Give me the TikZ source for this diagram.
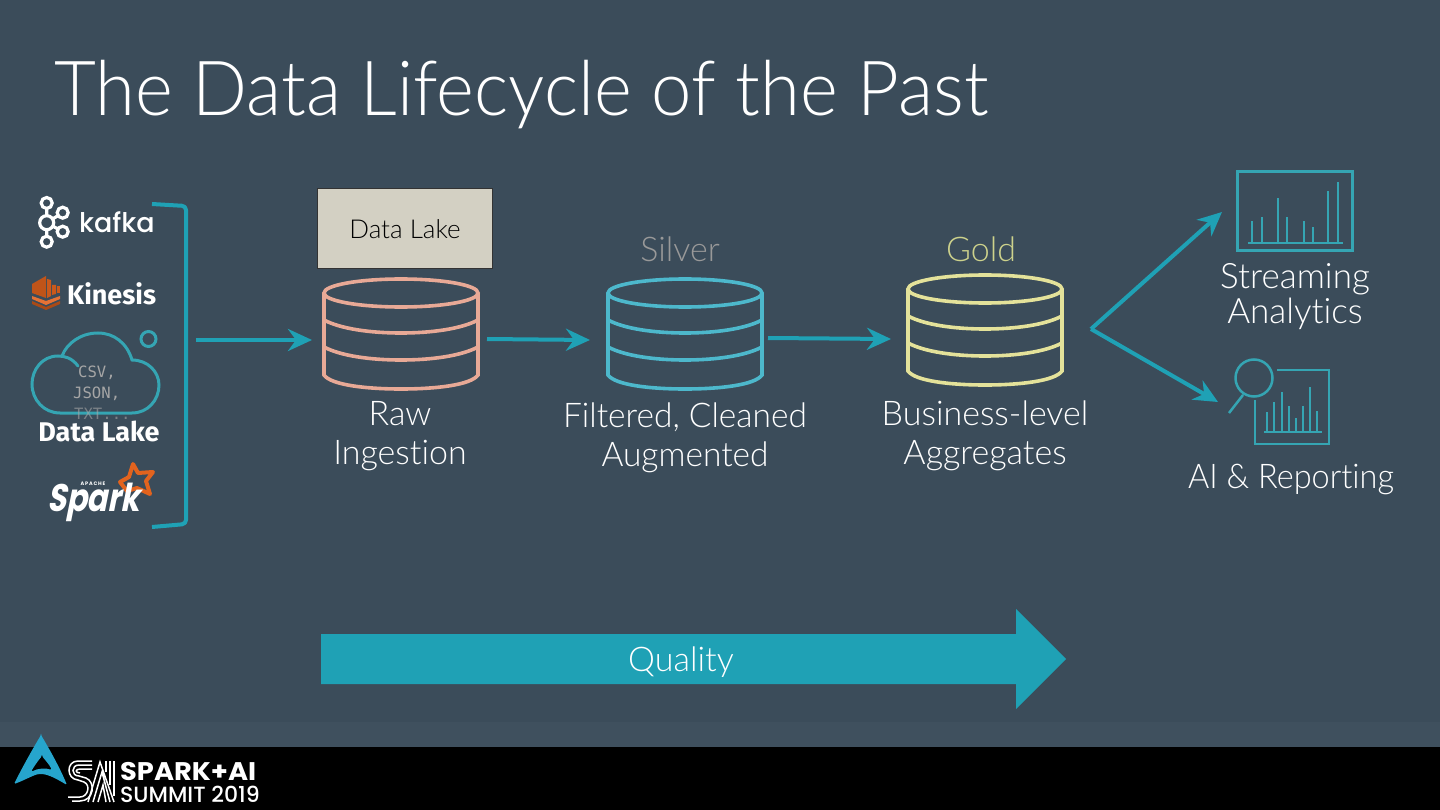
\documentclass[tikz,border=0pt]{standalone}
\usepackage{fontspec}
\usetikzlibrary{arrows.meta}
\setmainfont{Lato Light}[Ligatures=NoCommon]
\newfontfamily\boldf{Fira Sans}[UprightFont=* Bold]
\newfontfamily\geof{Poppins}[UprightFont=* Medium]
\newfontfamily\geob{Poppins}[UprightFont=* Bold]
\newfontfamily\monof{DejaVu Sans Mono}
\definecolor{bgc}{HTML}{3B4C5A}
\definecolor{bandc}{HTML}{3F505E}
\definecolor{teal}{HTML}{1FA1B5}
\definecolor{icont}{HTML}{35A5B3}
\definecolor{rawc}{HTML}{E8A996}
\definecolor{silverc}{HTML}{4DB8CC}
\definecolor{goldc}{HTML}{E4E29A}
\definecolor{orangec}{HTML}{E2631E}
\definecolor{logoblue}{HTML}{26A5CD}
\definecolor{boxc}{HTML}{D3D0C3}
\definecolor{goldt}{HTML}{CDD28C}
\tikzset{
  lbl/.style={text=white,align=center,font=\fontsize{#1}{#1}\selectfont,inner sep=0pt},
  lbl/.default=34,
  flow/.style={draw=teal,line width=4pt,-{Stealth[length=24pt,width=22pt,inset=8pt]}},
  icon/.style={draw=icont,line width=3pt},
  thin icon/.style={draw=icont,line width=2.5pt},
  monotext/.style={text=black!35!white,font=\monof\fontsize{15.6}{15.6}\selectfont,inner sep=0pt,anchor=base west},
}
\newcommand{\cyl}[4]{% name, cx, top y (ellipse centre), colour
  \begin{scope}[shift={(#2,#3)},draw=#4,line width=3.6pt]
    \draw (0,0) ellipse (77 and 14);
    \draw (-77,0) -- (-77,82) .. controls (-70,92) and (-35,96) .. (0,96) .. controls (35,96) and (70,92) .. (77,82) -- (77,0);
    \draw (-77,27) .. controls (-60,36) and (-30,40) .. (0,40) .. controls (30,40) and (60,36) .. (77,27);
    \draw (-77,54) .. controls (-60,63) and (-30,67) .. (0,67) .. controls (30,67) and (60,63) .. (77,54);
  \end{scope}
}
\begin{document}
\begin{tikzpicture}[x=1pt,y=-1pt]
\useasboundingbox (0,0) rectangle (1440,810);
\fill[bgc] (0,0) rectangle (1440,810);
\fill[bandc] (0,722) rectangle (1440,747);
\fill[black] (0,747) rectangle (1440,810);

\node[lbl=76,anchor=west,xscale=.952] (title) at (54,95) {The Data Lifecycle of the Past};

% kafka
\begin{scope}[draw=white,line width=3.2pt]
  \draw (46.7,222.7) -- (46.7,203) (46.7,222.7) -- (46.7,241.7) (46.7,222.7) -- (62.7,212.7) (46.7,222.7) -- (62.7,231.7);
  \draw[fill=bgc] (46.7,203) circle (5.5) (62.7,212.7) circle (5.5) (46.7,222.7) circle (7) (62.7,231.7) circle (5.5) (46.7,241.7) circle (5.5);
\end{scope}
\node[text=white,font=\geof\fontsize{27}{27}\selectfont,anchor=base west,inner sep=0pt] (kafka) at (79,233) {kafka};

% kinesis
\fill[orangec!85!black] (32,284) -- (46,276) -- (46,298) -- (32,293) -- cycle;
\fill[orangec!90!black] (47,279) -- (51,280) -- (51,296) -- (47,298) -- cycle;
\fill[orangec!90!black] (52,285) -- (56,285) -- (56,294) -- (52,295) -- cycle;
\fill[orangec!90!black] (57,286) -- (60,286) -- (60,293) -- (57,293) -- cycle;
\fill[orangec!90!white] (32,296) -- (46,301) -- (60,296) -- (60,299) -- (46,305) -- (32,299) -- cycle;
\fill[orangec!75!black] (32,301) -- (46,307) -- (60,301) -- (60,304) -- (46,310) -- (32,304) -- cycle;
\node[text=white,font=\boldf\fontsize{27}{27}\selectfont,anchor=base west,inner sep=0pt] (kinesis) at (67,304.5) {Kinesis};

% cloud
\draw[icon,line cap=round] (78,366) .. controls (72,358) and (65,356) .. (58,356)
   .. controls (42,356) and (32,370) .. (32,384)
   .. controls (32,400) and (44,413) .. (60,413) -- (132,413)
   .. controls (148,413) and (159,400) .. (159,385)
   .. controls (159,372) and (148,360) .. (132,360)
   .. controls (127,343) and (114,333) .. (98,333)
   .. controls (81,333) and (67,343) .. (62,356);
\draw[icon] (148.5,339) circle (7.5);
\node[monotext] (csv) at (78,377) {CSV,};
\node[monotext] (json) at (73,398) {JSON,};
\node[monotext,opacity=.6] (txt) at (74,419) {TXT...};
\node[text=white,font=\boldf\fontsize{27}{27}\selectfont,inner sep=0pt] (dl) at (99,431) {Data Lake};

% spark
\draw[draw=orangec,line width=4pt,line join=round,fill=none] (133,464) -- (138,473) -- (153,472) -- (146,481) -- (150,494) -- (137,488) -- (127,491) -- (120,482) -- (129,477) -- cycle;
\node[text=white,font=\geob\fontsize{32}{32}\selectfont,anchor=base west,inner sep=0pt,xslant=0.2,yscale=1.2,xscale=.96] (spark) at (47,511) {Spark};
\node[text=white,font=\geob\fontsize{5}{5}\selectfont,inner sep=0pt] (apache) at (93,484) {A\,P\,A\,C\,H\,E};

% bracket
\draw[draw=teal,line width=4pt,line join=round,rounded corners=4pt] (152,204) -- (186,206) -- (186,524) -- (152,527);

% nodes
\cyl{raw}{401}{293}{rawc}
\cyl{silver}{685}{293}{silverc}
\cyl{gold}{985}{289}{goldc}
\coordinate (b) at (196,340);
\coordinate (v) at (1091,329);
\coordinate (ta) at (1222,212);
\coordinate (tb) at (1218,402);
\coordinate (rawin) at (312,340);
\coordinate (rawout) at (487,339);
\coordinate (silverin) at (590,340);
\coordinate (silverout) at (768,338);
\coordinate (goldin) at (891,339);
\draw[flow] (b) -- (rawin);
\draw[flow] (rawout) -- (silverin);
\draw[flow] (silverout) -- (goldin);
\draw[flow] (v) -- (ta);
\draw[flow] (v) -- (tb);

\node[draw=black!80,line width=1pt,fill=boxc,minimum width=174.5pt,minimum height=80pt,inner sep=0pt,font=\fontsize{26}{26}\selectfont,text=black] (dlbox) at (405,229) {\raisebox{-1.5pt}{Data Lake}};

\node[lbl=34,text=black!40!white] (silver) at (680,249) {Silver};
\node[lbl=34,text=goldt] (gold) at (981,249) {Gold};
\node[lbl=34] (rawl) at (400,436) {Raw\\[5pt]Ingestion};
\node[lbl=34,xscale=.985] (silverl) at (685,438) {Filtered, Cleaned\\[5pt]Augmented};
\node[lbl=34] (goldl) at (985,436) {Business-level\\[5pt]Aggregates};
\node[lbl=35] (sa) at (1295,297) {Streaming\\Analytics};
\node[lbl=34,xscale=.955] (air) at (1291,479) {AI \& Reporting};

% chart 1
\draw[icon] (1237,172) rectangle (1352,251);
\draw[thin icon] (1248,243) -- (1343,243)
 (1252,243) -- (1252,221) (1262,243) -- (1262,217) (1278,243) -- (1278,198) (1287,243) -- (1287,217)
 (1304,243) -- (1304,221) (1313,243) -- (1313,227) (1328,243) -- (1328,191) (1338,243) -- (1338,182);
% chart 2
\draw[thin icon] (1277,370) -- (1329,370) -- (1329,444) -- (1255,444) -- (1255,400);
\draw[thin icon] (1254,378) circle (18.5) (1243,395) -- (1229,413);
\draw[thin icon] (1264,432) -- (1322,432)
 (1267,432) -- (1267,412) (1274,432) -- (1274,402) (1282,432) -- (1282,392) (1289,432) -- (1289,406)
 (1296,432) -- (1296,418) (1303,432) -- (1303,406) (1310,432) -- (1310,387) (1317,432) -- (1317,411);

% quality arrow
\fill[teal] (321,634) -- (1016,634) -- (1016,609) -- (1066,659) -- (1016,709) -- (1016,684) -- (321,684) -- cycle;
\node[lbl=34] (quality) at (681,662) {Quality};

% footer logo
\fill[logoblue,even odd rule,rounded corners=1.5pt] (41,735) .. controls (50,750) and (60,768) .. (67,785) .. controls (55,778) and (45,772) .. (35,775) .. controls (28,778) and (20,782) .. (14,784) .. controls (22,768) and (32,750) .. (41,735) -- cycle
 (42,756) .. controls (37,762) and (33,768) .. (31,772) .. controls (38,768) and (46,768) .. (52,770) .. controls (49,764) and (45,760) .. (42,756) -- cycle;
\begin{scope}[draw=white,line width=1.5pt]
 \draw (92,761) -- (78,761) .. controls (66,761) and (66,779) .. (78,780) -- (84,782) .. controls (91,785) and (88,797) .. (80,797) -- (68,797);
 \draw (92,765) -- (79,765) .. controls (71,765) and (71,776) .. (79,776) -- (86,778) .. controls (96,782) and (94,801) .. (80,801) -- (72,801);
 \draw (92,769) -- (80,769) .. controls (75,769) and (75,773) .. (80,773);
 \draw (88,802) -- (100,762) -- (114,802) (93,802) -- (102,772) -- (110,802) (98,802) -- (103,785) -- (106,802);
 \draw (106,761) -- (106,772) (110,761) -- (110,785) (114,761) -- (114,796);
\end{scope}
\node[text=white,font=\geob\fontsize{25.5}{25.5}\selectfont,anchor=base west,inner sep=0pt,xscale=1.07] (f1) at (120,780) {SPARK+AI};
\node[text=white,font=\geof\fontsize{22}{22}\selectfont,anchor=base west,inner sep=0pt] (f2) at (120,802.5) {SUMMIT 2019};
\end{tikzpicture}
\end{document}
